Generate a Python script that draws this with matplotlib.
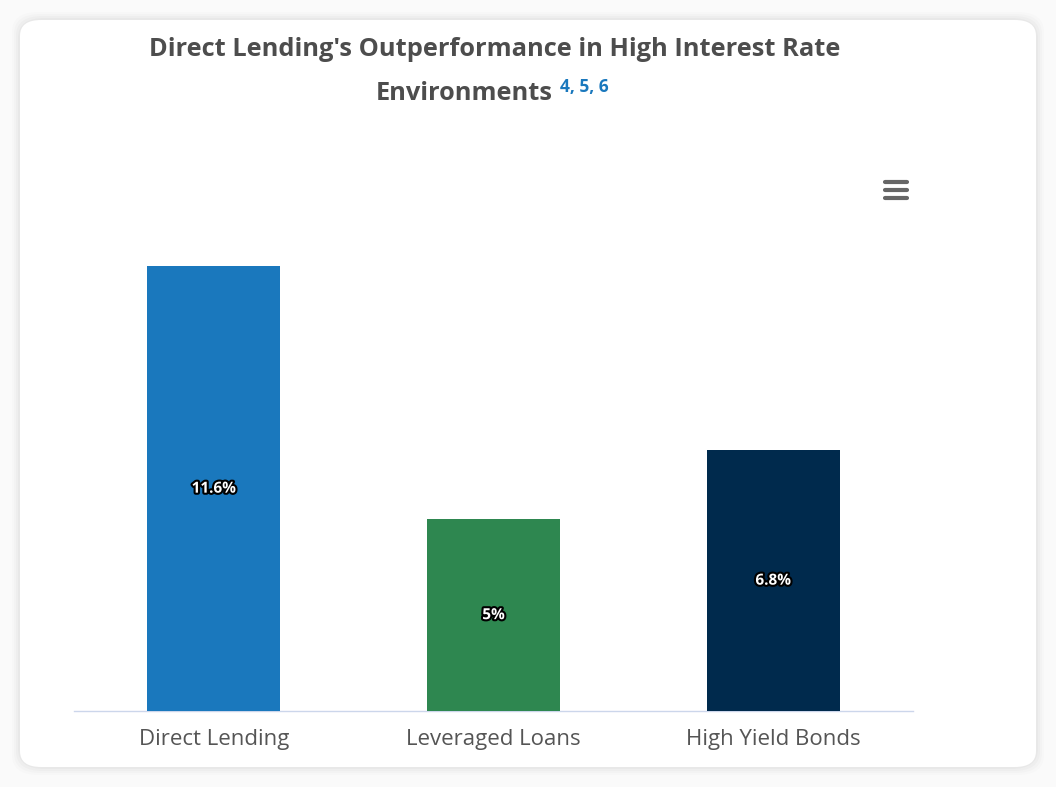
import matplotlib
matplotlib.use("Agg")
import matplotlib.pyplot as plt
from matplotlib.patches import FancyBboxPatch
import matplotlib.patheffects as pe

categories = ["Direct Lending", "Leveraged Loans", "High Yield Bonds"]
values = [11.6, 5.0, 6.8]
value_labels = ["11.6%", "5%", "6.8%"]
colors = ["#1a78bd", "#2e8750", "#002a4d"]

W, H = 1056, 787
fig = plt.figure(figsize=(W / 100, H / 100), dpi=100)
fig.patch.set_facecolor("#fafafa")

# card with soft shadow
for i, a in enumerate([0.012, 0.015, 0.02, 0.025]):
    pad = 8 - 2 * i
    fig.patches.append(FancyBboxPatch(((20 - pad) / W, (20 - pad) / H),
                                      (1016 + 2 * pad) / W, (747 + 2 * pad) / H,
                                      boxstyle="round,pad=0,rounding_size=0.025",
                                      transform=fig.transFigure, facecolor="#000000",
                                      alpha=a, edgecolor="none", zorder=0))
fig.patches.append(FancyBboxPatch((20 / W, 20 / H), 1016 / W, 747 / H,
                                  boxstyle="round,pad=0,rounding_size=0.02",
                                  transform=fig.transFigure, facecolor="white",
                                  edgecolor="none", zorder=1))

ax = fig.add_axes([74 / W, (H - 711) / H, (913 - 74) / W, (711 - 251) / H])
ax.set_facecolor("none")
ax.set_zorder(2)

x = range(len(categories))
bars = ax.bar(x, values, width=0.475, color=colors, zorder=3)
ax.set_xlim(-0.5, 2.5)
ax.set_ylim(0, 12)

for b, lab in zip(bars, value_labels):
    ax.text(b.get_x() + b.get_width() / 2, b.get_height() / 2, lab,
            ha="center", va="center", color="white", fontsize=11,
            fontweight="bold", family="Open Sans",
            path_effects=[pe.withStroke(linewidth=3, foreground="black")], zorder=4)

for s in ["top", "right", "left"]:
    ax.spines[s].set_visible(False)
ax.spines["bottom"].set_color("#ccd6eb")
ax.spines["bottom"].set_linewidth(1)
ax.set_yticks([])
ax.set_xticks(list(x))
ax.set_xticklabels(categories, fontsize=16, color="#555555", family="Open Sans")
ax.tick_params(axis="x", length=0, pad=13)

# title
fig.text(495 / W, 1 - 50 / H, "Direct Lending's Outperformance in High Interest Rate",
         ha="center", va="center", fontsize=18.3, fontweight="bold",
         color="#4d4d4d", family="Open Sans")
fig.text(464 / W, 1 - 94 / H, "Environments", ha="center", va="center",
         fontsize=18.3, fontweight="bold", color="#4d4d4d", family="Open Sans")
fig.text(560 / W, 1 - 87 / H, "4, 5, 6", ha="left", va="center",
         fontsize=12.5, fontweight="bold", color="#1a78bd", family="Open Sans")

# menu icon
for dy in [-8, 0, 8]:
    fig.add_artist(plt.Line2D([885 / W, 907 / W], [1 - (190 + dy) / H] * 2,
                              transform=fig.transFigure, color="#666666",
                              linewidth=3, solid_capstyle="round", zorder=5))

fig.savefig("out.png", dpi=100, facecolor=fig.get_facecolor())
